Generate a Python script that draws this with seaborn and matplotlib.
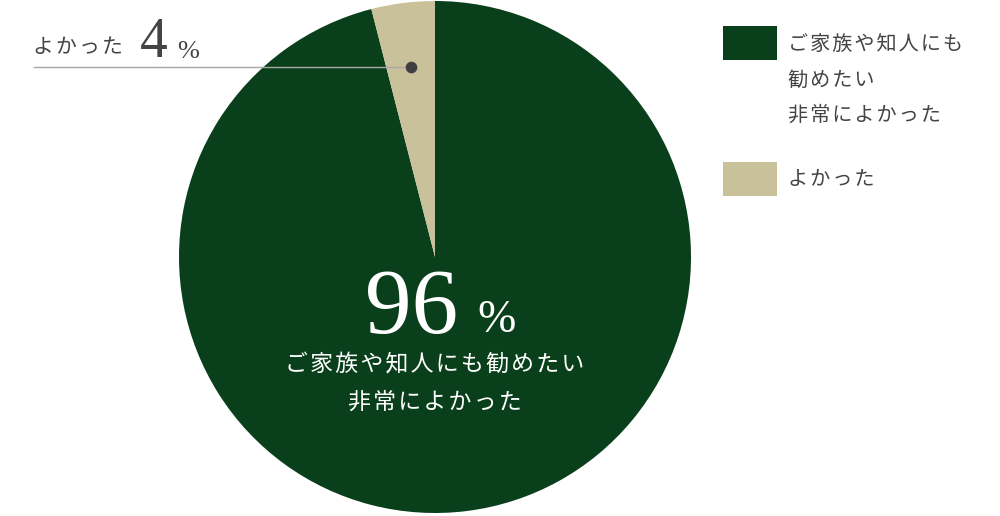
import numpy as np
import matplotlib
matplotlib.use("Agg")
import matplotlib.pyplot as plt
from matplotlib.patches import Rectangle
from matplotlib.legend_handler import HandlerPatch
import seaborn as sns

# data
labels = ["ご家族や知人にも勧めたい非常によかった", "よかった"]
legend_labels = ["ご家族や知人にも\n勧めたい\n非常によかった", "よかった"]
values = [96, 4]
colors = ["#0a3f1b", "#c9c19a"]

sns.set_theme(style="white")
plt.rcParams["font.family"] = ["Noto Sans CJK JP", "DejaVu Sans"]

TS = "\u200a"  # hair space used as letter spacing
def spaced(s):
    return "\n".join(TS.join(line) for line in s.split("\n"))

H = 516
fig = plt.figure(figsize=(10, 5.16), dpi=100)
ax = fig.add_axes([0, 0, 1, 1])
ax.set_xlim(0, 1000)
ax.set_ylim(0, H)
ax.set_aspect("equal")
ax.axis("off")

cx, cy, R = 435, H - 257, 256
wedges, _ = ax.pie(values, colors=colors, startangle=90, counterclock=False,
                   center=(cx, cy), radius=R, wedgeprops=dict(linewidth=0))
ax.set_xlim(0, 1000)
ax.set_ylim(0, H)

text_col = "#444444"
digits = ["Liberation Serif", "DejaVu Serif"]

# big label inside the dark wedge
ax.text(458, H - 333, str(values[0]), color="white", fontsize=67,
        family=digits, ha="right", va="baseline")
ax.text(477, H - 332, "%", color="white", fontsize=33,
        family=digits, ha="left", va="baseline")
ax.text(cx, H - 365, spaced("ご家族や知人にも勧めたい"), color="white",
        fontsize=16.5, ha="center", va="center")
ax.text(cx, H - 402, spaced("非常によかった"), color="white",
        fontsize=16.5, ha="center", va="center")

# small wedge callout
w = wedges[1]
mid = np.deg2rad((w.theta1 + w.theta2) / 2)
dx = cx + 0.75 * R * np.cos(mid)
dy = cy + 0.75 * R * np.sin(mid)
ax.plot([33, dx], [dy, dy], color="#a8a8a8", lw=1, solid_capstyle="butt")
ax.scatter([dx], [dy], s=70, color="#3f3f3f", zorder=5, linewidths=0)
ax.text(33, H - 47, spaced(labels[1]), color=text_col, fontsize=15,
        ha="left", va="center")
ax.text(140, H - 57, str(values[1]), color=text_col, fontsize=40,
        family=digits, ha="left", va="baseline")
ax.text(177, H - 58, "%", color=text_col, fontsize=19,
        family=digits, ha="left", va="baseline")

# legend: swatch sits next to the first line of its label
pitch_pt = 35 * 72 / 100
box_h = 34 * 72 / 100


def top_swatch(nlines):
    def make(legend, orig_handle, xdescent, ydescent, width, height, fontsize):
        mid_y = -ydescent + height / 2 + (nlines - 1) / 2 * (pitch_pt + 2.2)
        return Rectangle((-xdescent, mid_y - box_h / 2), width, box_h)
    return HandlerPatch(patch_func=make)


hmap = {wd: top_swatch(lab.count("\n") + 1) for wd, lab in zip(wedges, legend_labels)}
leg = ax.legend(wedges, [spaced(l) for l in legend_labels],
                handler_map=hmap,
                loc="upper left", bbox_to_anchor=(0.723, 0.934),
                frameon=False, fontsize=14.5, handlelength=2.7, handleheight=1.7,
                handletextpad=0.55, labelspacing=1.95, borderpad=0,
                borderaxespad=0, labelcolor=text_col)
for t in leg.get_texts():
    t.set_linespacing(1.9)

fig.savefig("out.png", dpi=100, facecolor="white")
